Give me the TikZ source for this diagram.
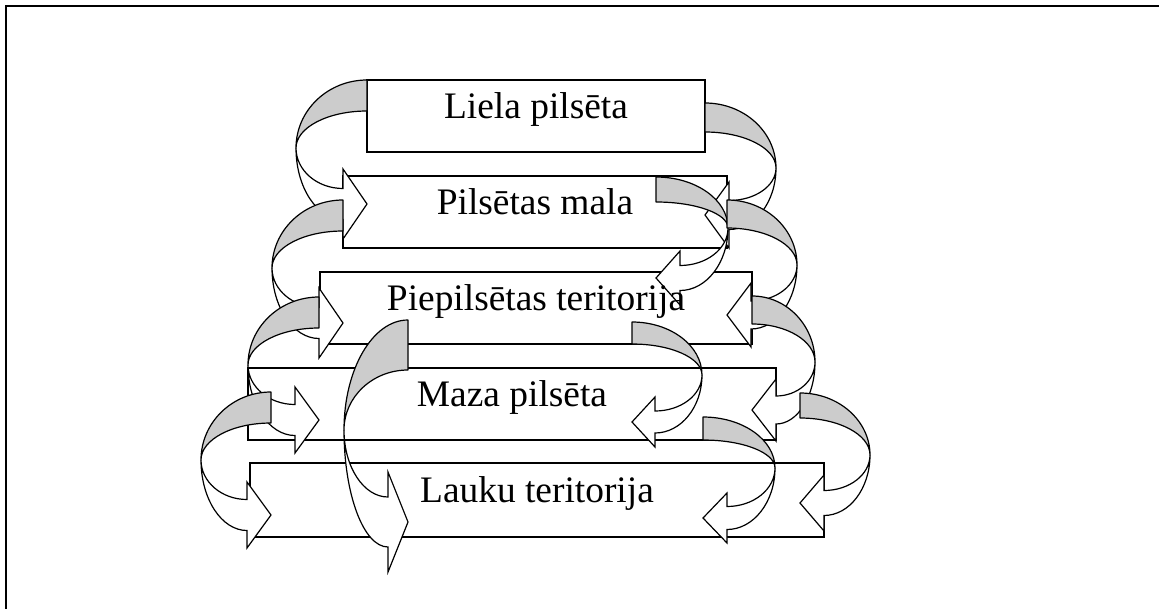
\documentclass[tikz,border=0pt]{standalone}
\usepackage{fontspec}
\setmainfont{Liberation Serif}
\definecolor{bandgray}{RGB}{204,204,204}

% curved ribbon arrow: side, x0, y0, band, reach, drop, tip drop, head length, head half
\newcommand{\curvarrow}[9]{%
  \pgfmathsetmacro{\cpx}{#2+(#1)*#5}
  \pgfmathsetmacro{\cpy}{#3+#6}
  \pgfmathsetmacro{\ctip}{#3+#7}
  \pgfmathsetmacro{\cbx}{#2+(#1)*#8}
  \pgfmathsetmacro{\chx}{#2+(#1)*0.5523*#5}
  \pgfmathsetmacro{\cfx}{\cbx+0.5523*(\cpx-\cbx)}
  \pgfmathsetmacro{\cshu}{\ctip-#4/2}
  \pgfmathsetmacro{\cshl}{\ctip+#4/2}
  \filldraw[back] (#2,#3) .. controls (\chx,#3) and (\cpx,{\cpy-0.5523*#6}) .. (\cpx,\cpy)
    .. controls (\cpx,{\cpy-0.5523*(#6-#4)}) and (\chx,{#3+#4}) .. (#2,{#3+#4}) -- cycle;
  \filldraw[front] (\cpx,\cpy) .. controls (\cpx,{\cpy+0.5523*(\cshu-\cpy)}) and (\cfx,\cshu) .. (\cbx,\cshu)
    -- (\cbx,{\ctip-#9}) -- (#2,\ctip) -- (\cbx,{\ctip+#9}) -- (\cbx,\cshl)
    .. controls (\cfx,\cshl) and (\cpx,{\cpy+0.5523*(\cshl-\cpy)}) .. (\cpx,\cpy) -- cycle;
}

\begin{document}
\begin{tikzpicture}[x=1pt,y=-1pt,
    box/.style={draw,line width=2pt,fill=white,minimum height=72pt,inner sep=0pt},
    label/.style={font=\fontsize{37.4}{44}\selectfont,text height=0.7em,text depth=0.22em,inner sep=0pt},
    back/.style={draw,line width=1.2pt,fill=bandgray,line join=round},
    front/.style={draw,line width=1.2pt,fill=white,line join=miter}]

    \useasboundingbox (0,0) rectangle (1159,608);
    \draw[line width=2pt] (6,700) -- (6,6) -- (1200,6);

    \node[box,minimum width=338pt] (liela) at (536,116) {};
    \node[box,minimum width=384pt] (mala) at (535,212) {};
    \node[box,minimum width=432pt] (piep) at (536,308) {};
    \node[box,minimum width=528pt] (maza) at (512,404) {};
    \node[box,minimum width=574pt,minimum height=74pt] (lauku) at (537,500) {};

    % left side
    \curvarrow{-1}{367}{80}{31}{71}{68}{124}{24}{35}
    \curvarrow{-1}{343}{200}{31}{71}{68}{123}{24}{35}
    \curvarrow{-1}{319}{297}{31}{71}{68}{123}{24}{33}
    \curvarrow{-1}{271}{392}{31}{70}{68}{123}{24}{33}
    \curvarrow{-1}{408}{320}{50}{64}{110}{202}{20}{50}

    % right side
    \curvarrow{1}{705}{103}{29}{71}{65}{112}{24}{33}
    \curvarrow{1}{656}{177}{25}{72}{51}{101}{24}{27}
    \curvarrow{1}{727}{200}{28}{70}{65}{115}{24}{32}
    \curvarrow{1}{752}{296}{28}{63}{66}{114}{24}{31}
    \curvarrow{1}{632}{322}{22}{70}{53}{100}{23}{25}
    \curvarrow{1}{703}{417}{23}{72}{51}{101}{24}{25}
    \curvarrow{1}{800}{393}{25}{70}{62}{110}{24}{28}

    \node[label] (lielatxt) at (liela) {Liela pilsēta};
    \node[label] (malatxt) at (mala) {Pilsētas mala};
    \node[label] (pieptxt) at (piep) {Piepilsētas teritorija};
    \node[label] (mazatxt) at (maza) {Maza pilsēta};
    \node[label] (laukutxt) at (lauku) {Lauku teritorija};

\end{tikzpicture}
\end{document}
